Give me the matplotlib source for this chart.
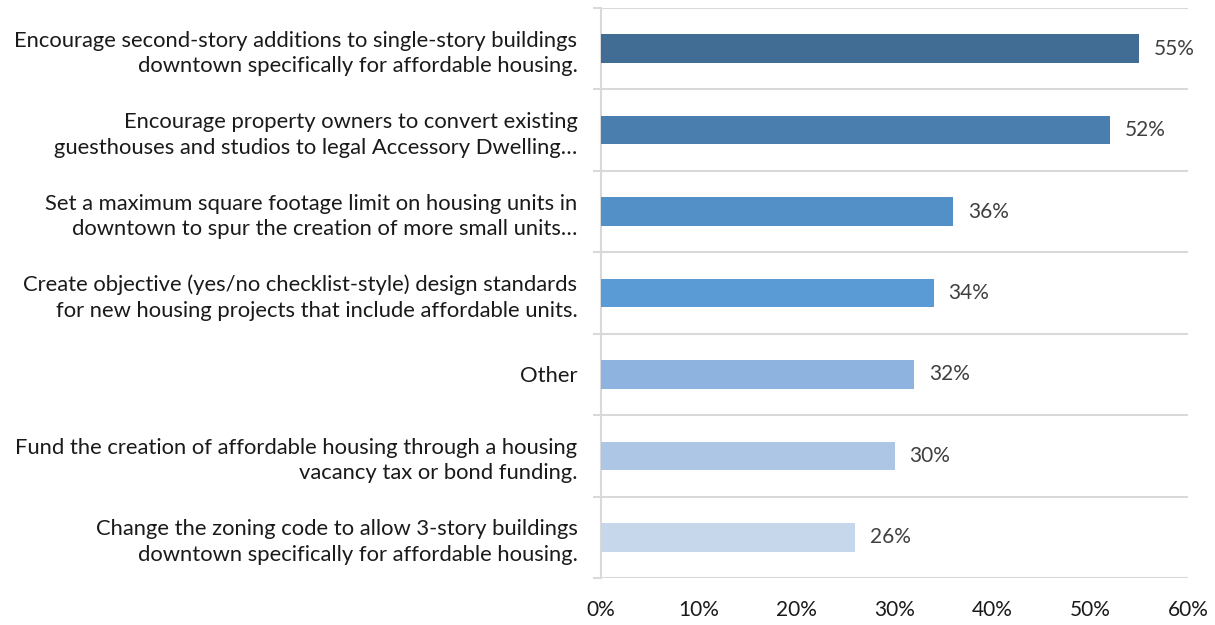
import numpy as np
import matplotlib
matplotlib.use('Agg')
import matplotlib.pyplot as plt
from matplotlib.ticker import FixedLocator, PercentFormatter

plt.rcParams['font.family'] = ['Lato', 'DejaVu Sans']

labels = [
    'Encourage second-story additions to single-story buildings\ndowntown specifically for affordable housing.',
    'Encourage property owners to convert existing\nguesthouses and studios to legal Accessory Dwelling\u2026',
    'Set a maximum square footage limit on housing units in\ndowntown to spur the creation of more small units\u2026',
    'Create objective (yes/no checklist-style) design standards\nfor new housing projects that include affordable units.',
    'Other',
    'Fund the creation of affordable housing through a housing\nvacancy tax or bond funding.',
    'Change the zoning code to allow 3-story buildings\ndowntown specifically for affordable housing.',
]
values = [55, 52, 36, 34, 32, 30, 26]
colors = ['#416C94', '#4A7EAE', '#5490C8', '#5B9BD5', '#8EB3DE', '#ADC6E5', '#C6D7EC']

fig = plt.figure(figsize=(12.15, 6.25), dpi=100)
ax = fig.add_axes([0.4947, 0.0752, 0.4831, 0.912])

y = np.arange(len(values))
ax.barh(y, values, height=0.35, color=colors, zorder=3)
for yi, v in zip(y, values):
    ax.text(v + 1.5, yi, '%d%%' % v, va='center', ha='left', fontsize=15, color='#404040')

ax.set_ylim(len(values) - 0.5, -0.5)
ax.set_xlim(0, 60)
ax.set_xticks(np.arange(0, 61, 10))
ax.xaxis.set_major_formatter(PercentFormatter(decimals=0))
ax.set_yticks(y)
ax.set_yticklabels(labels, fontsize=15.8, color='#1a1a1a', linespacing=1.35)
ax.yaxis.set_minor_locator(FixedLocator(np.arange(-0.5, len(values), 1)))
ax.tick_params(axis='y', which='major', length=0, pad=17)
ax.tick_params(axis='y', which='minor', length=6, color='#D9D9D9', width=1.5)
ax.tick_params(axis='x', length=0, labelsize=15, pad=16, colors='#1a1a1a')
ax.grid(True, axis='y', which='minor', color='#D9D9D9', linewidth=1.5, zorder=0)
for s in ['top', 'right', 'bottom']:
    ax.spines[s].set_visible(False)
ax.spines['left'].set_color('#D9D9D9')
ax.spines['left'].set_linewidth(1.5)

fig.savefig('out.png', dpi=100)
